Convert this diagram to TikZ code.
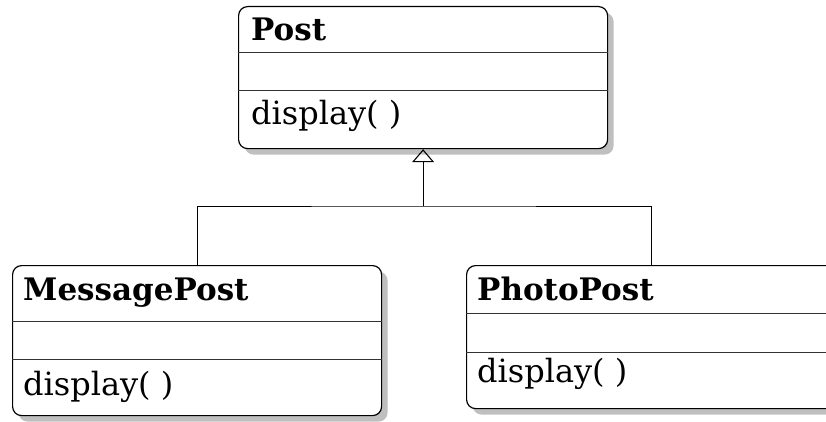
\documentclass[tikz,border=0pt]{standalone}
\usepackage{fontspec}
\newfontfamily\classfont{DejaVu Serif}
\usetikzlibrary{shadows,arrows.meta,positioning}

\tikzset{
  classbox/.style={draw, line width=1.2pt, rounded corners=9pt, fill=white,
    minimum width=369pt, anchor=north west, inner sep=0pt,
    drop shadow={shadow xshift=6pt, shadow yshift=-6pt, fill=black!25, opacity=1}},
  divider/.style={draw=black!80, line width=1pt},
  classname/.style={anchor=base west, inner sep=0pt,
    font=\classfont\bfseries\fontsize{31}{34}\selectfont},
  method/.style={anchor=base west, inner sep=0pt,
    font=\classfont\fontsize{32}{36}\selectfont},
  inherit/.style={line width=0.9pt, -{Triangle[open, length=13pt, width=22pt, line width=1.1pt]}}
}

\begin{document}
\begin{tikzpicture}[x=1pt,y=1pt]
\useasboundingbox (0,0) rectangle (826,421);
\clip (0,0) rectangle (826,421);

% class boxes
\node[classbox, minimum height=142pt] (post) at (238,415) {};
\node[classbox, minimum height=150pt] (msg) at (12,156) {};
\node[classbox, minimum height=143pt] (photo) at (466,156) {};

% compartments
\draw[divider] ([yshift=-47pt]post.north west) -- ([yshift=-47pt]post.north east);
\draw[divider] ([yshift=-85pt]post.north west) -- ([yshift=-85pt]post.north east);
\draw[divider] ([yshift=-56pt]msg.north west) -- ([yshift=-56pt]msg.north east);
\draw[divider] ([yshift=-94pt]msg.north west) -- ([yshift=-94pt]msg.north east);
\draw[divider] ([yshift=-48pt]photo.north west) -- ([yshift=-48pt]photo.north east);
\draw[divider] ([yshift=-87pt]photo.north west) -- ([yshift=-87pt]photo.north east);

% names and methods
\node[classname] (postname) at ([xshift=13pt, yshift=-35pt]post.north west) {Post};
\node[method] (postop) at ([xshift=13pt, yshift=-119pt]post.north west) {display( )};
\node[classname] (msgname) at ([xshift=11pt, yshift=-35pt]msg.north west) {MessagePost};
\node[method] (msgop) at ([xshift=11pt, yshift=-130pt]msg.north west) {display( )};
\node[classname] (photoname) at ([xshift=11pt, yshift=-35pt]photo.north west) {PhotoPost};
\node[method] (photoop) at ([xshift=11pt, yshift=-117pt]photo.north west) {display( )};

% generalisation
\coordinate (joint) at (post.south |- 0,215);
\draw[line width=0.9pt] (msg.north) |- (joint) -| (photo.north);
\draw[inherit] (joint) -- (post.south);

\end{tikzpicture}
\end{document}
